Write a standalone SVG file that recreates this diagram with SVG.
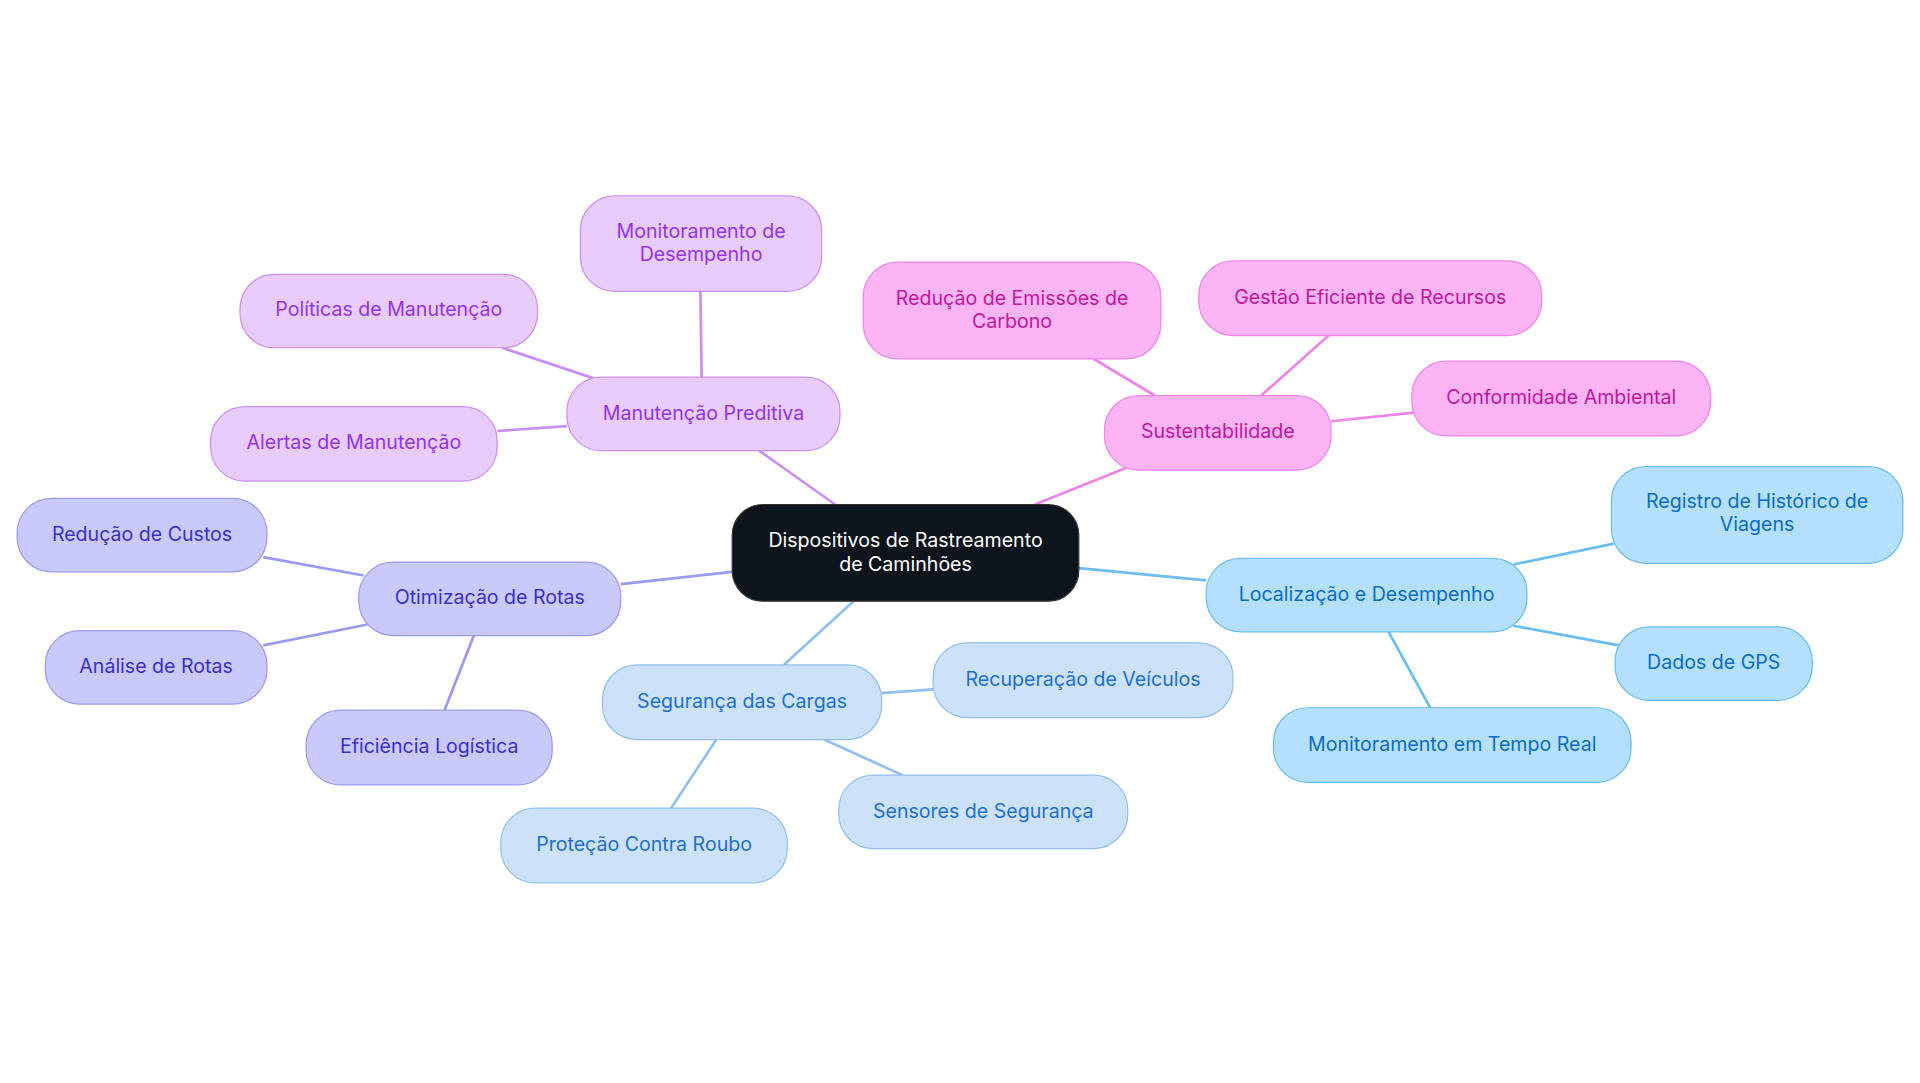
<svg xmlns="http://www.w3.org/2000/svg" width="1920" height="1083" viewBox="0 0 1920 1083">
<style>
text{font-family:Inter,"Noto Sans",sans-serif;font-size:16px;text-anchor:middle}
.p rect{fill:#e8ccfc;stroke:#c98ef5}.p text{fill:#9333ea}
.v rect{fill:#c9c9fc;stroke:#9a9af0}.v text{fill:#3b2fc9}
.b rect{fill:#cce2fb;stroke:#90bff0}.b text{fill:#1e6fd0}
.s rect{fill:#b5e0fd;stroke:#6bbcf0}.s text{fill:#0a6cc4}
.m rect{fill:#fcb4f4;stroke:#ef84e6}.m text{fill:#c0179f}
#edges line{stroke-width:2.2}
</style>
<rect width="1920" height="1083" fill="#fff"/>
<g transform="scale(1.2245)">
<g id="edges">
<line x1="682" y1="412" x2="620" y2="368" stroke="#c98ef5"/>
<line x1="573" y1="308" x2="572" y2="238" stroke="#c98ef5"/>
<line x1="485" y1="309" x2="410" y2="284" stroke="#c98ef5"/>
<line x1="463" y1="348" x2="406" y2="352" stroke="#c98ef5"/>
<line x1="598" y1="467" x2="507" y2="477" stroke="#9a9af0"/>
<line x1="297" y1="470" x2="215" y2="455" stroke="#9a9af0"/>
<line x1="300" y1="510" x2="215" y2="527" stroke="#9a9af0"/>
<line x1="387" y1="519" x2="363" y2="580" stroke="#9a9af0"/>
<line x1="697" y1="491" x2="640" y2="543" stroke="#90bff0"/>
<line x1="720" y1="566" x2="762" y2="563" stroke="#90bff0"/>
<line x1="673" y1="604" x2="737" y2="633" stroke="#90bff0"/>
<line x1="585" y1="604" x2="548" y2="660" stroke="#90bff0"/>
<line x1="881" y1="464" x2="985" y2="474" stroke="#6bbcf0"/>
<line x1="1236" y1="461" x2="1318" y2="444" stroke="#6bbcf0"/>
<line x1="1236" y1="511" x2="1322" y2="527" stroke="#6bbcf0"/>
<line x1="1134" y1="516" x2="1168" y2="578" stroke="#6bbcf0"/>
<line x1="845" y1="412" x2="920" y2="382" stroke="#ef84e6"/>
<line x1="943" y1="323" x2="893" y2="293" stroke="#ef84e6"/>
<line x1="1030" y1="323" x2="1085" y2="274" stroke="#ef84e6"/>
<line x1="1087" y1="344" x2="1155" y2="337" stroke="#ef84e6"/>
</g>
<g id="center"><rect x="598" y="412" width="283" height="79" rx="25" fill="#0d141c" stroke="#333"/><text x="739.5" y="447" fill="#fff">Dispositivos de Rastreamento</text><text x="739.5" y="466" fill="#fff">de Caminhões</text></g>
<g id="manut" class="p"><rect x="463" y="308" width="223" height="60" rx="28"/><text x="574.5" y="343">Manutenção Preditiva</text></g>
<g id="monit" class="p"><rect x="474" y="160" width="197" height="78" rx="28"/><text x="572.5" y="194">Monitoramento de</text><text x="572.5" y="213">Desempenho</text></g>
<g id="polit" class="p"><rect x="196" y="224" width="243" height="60" rx="28"/><text x="317.5" y="258">Políticas de Manutenção</text></g>
<g id="alert" class="p"><rect x="172" y="332" width="234" height="61" rx="28"/><text x="289" y="367">Alertas de Manutenção</text></g>
<g id="otim" class="v"><rect x="293" y="459" width="214" height="60" rx="28"/><text x="400" y="493">Otimização de Rotas</text></g>
<g id="custos" class="v"><rect x="14" y="407" width="204" height="60" rx="28"/><text x="116" y="442">Redução de Custos</text></g>
<g id="analise" class="v"><rect x="37" y="515" width="181" height="60" rx="28"/><text x="127.5" y="550">Análise de Rotas</text></g>
<g id="efic" class="v"><rect x="250" y="580" width="201" height="61" rx="28"/><text x="350.5" y="615">Eficiência Logística</text></g>
<g id="seg" class="b"><rect x="492" y="543" width="228" height="61" rx="28"/><text x="606" y="578">Segurança das Cargas</text></g>
<g id="recup" class="b"><rect x="762" y="525" width="245" height="61" rx="28"/><text x="884.5" y="560">Recuperação de Veículos</text></g>
<g id="sens" class="b"><rect x="685" y="633" width="236" height="60" rx="28"/><text x="803" y="668">Sensores de Segurança</text></g>
<g id="prot" class="b"><rect x="409" y="660" width="234" height="61" rx="28"/><text x="526" y="695">Proteção Contra Roubo</text></g>
<g id="local" class="s"><rect x="985" y="456" width="262" height="60" rx="28"/><text x="1116" y="491">Localização e Desempenho</text></g>
<g id="regis" class="s"><rect x="1316" y="381" width="238" height="79" rx="28"/><text x="1435" y="415">Registro de Histórico de</text><text x="1435" y="434">Viagens</text></g>
<g id="gps" class="s"><rect x="1319" y="512" width="161" height="60" rx="28"/><text x="1399.5" y="546">Dados de GPS</text></g>
<g id="tempo" class="s"><rect x="1040" y="578" width="292" height="61" rx="28"/><text x="1186" y="613">Monitoramento em Tempo Real</text></g>
<g id="sust" class="m"><rect x="902" y="323" width="185" height="61" rx="28"/><text x="994.5" y="358">Sustentabilidade</text></g>
<g id="emis" class="m"><rect x="705" y="214" width="243" height="79" rx="28"/><text x="826.5" y="249">Redução de Emissões de</text><text x="826.5" y="268">Carbono</text></g>
<g id="gest" class="m"><rect x="979" y="213" width="280" height="61" rx="28"/><text x="1119" y="248">Gestão Eficiente de Recursos</text></g>
<g id="conf" class="m"><rect x="1153" y="295" width="244" height="61" rx="28"/><text x="1275" y="330">Conformidade Ambiental</text></g>
</g>
</svg>
